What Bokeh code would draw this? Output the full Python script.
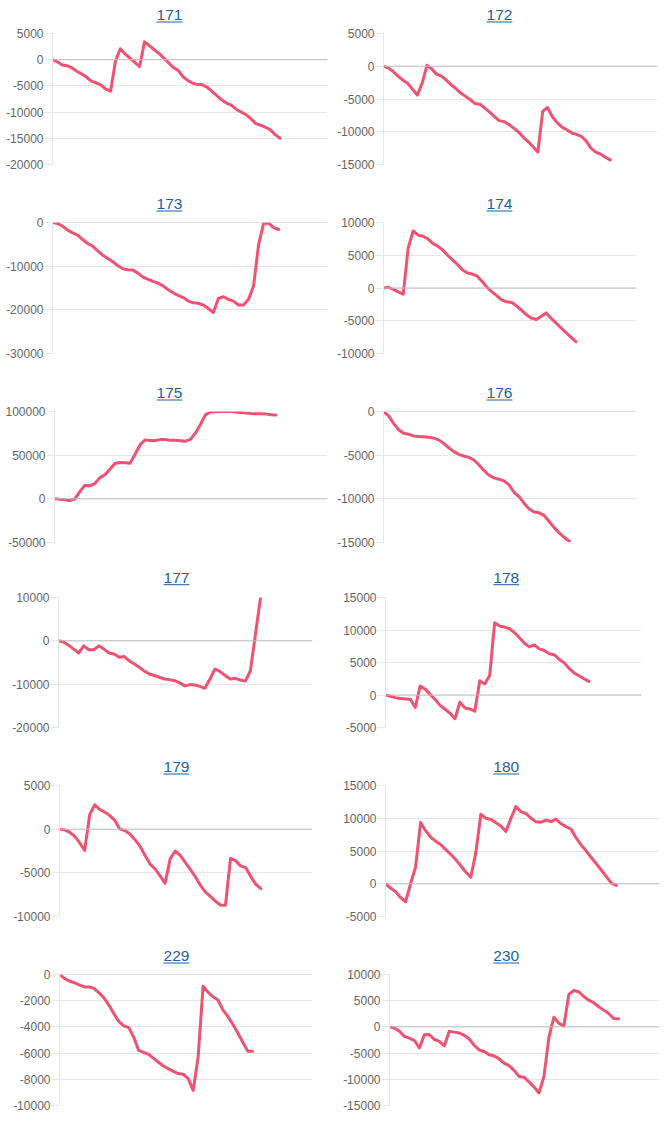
from bokeh.plotting import figure
from bokeh.layouts import column, row
from bokeh.models import Range1d, FixedTicker, Span, NumeralTickFormatter
from bokeh.embed import file_html
from bokeh.resources import INLINE
from bokeh.core.properties import value

# ---------------- data ----------------
TITLES = ["171", "172", "173", "174", "175", "176", "177", "178", "179", "180", "229", "230"]

S171 = [0, -400, -1000, -1150, -1550, -2200, -2700, -3300, -4100, -4400, -4800, -5600,
        -6000, -300, 2100, 1100, 300, -500, -1300, 3400, 2700, 1900, 1200, 300, -600,
        -1500, -2100, -3300, -4000, -4500, -4750, -4800, -5300, -6100, -6900, -7700,
        -8300, -8700, -9500, -10000, -10500, -11300, -12200, -12500, -12900, -13400,
        -14300, -15000]
S172 = [0, -250, -800, -1500, -2100, -2600, -3500, -4400, -2600, 150, -400, -1200,
        -1500, -2100, -2800, -3400, -4100, -4600, -5100, -5700, -5800, -6400, -7000,
        -7700, -8300, -8450, -8900, -9450, -10050, -10850, -11500, -12300, -13100,
        -6900, -6300, -7700, -8600, -9300, -9700, -10200, -10400, -10700, -11400,
        -12500, -13100, -13400, -13900, -14300]
S173 = [0, -230, -840, -1750, -2370, -2900, -3900, -4800, -5400, -6500, -7500, -8250,
        -9000, -9900, -10600, -10800, -10900, -11600, -12500, -13000, -13500, -13900,
        -14500, -15400, -16100, -16700, -17200, -18000, -18400, -18500, -18900, -19700,
        -20600, -17400, -17000, -17600, -18000, -18900, -18900, -17600, -14500, -5000,
        -200, -200, -1150, -1600]
S174 = [0, 100, -200, -600, -950, 6100, 8700, 8100, 7900, 7500, 6800, 6400, 5800, 5000,
        4300, 3600, 2800, 2300, 2150, 1800, 1000, 100, -600, -1200, -1850, -2100, -2200,
        -2750, -3400, -4100, -4600, -4800, -4300, -3800, -4650, -5350, -6100, -6800,
        -7500, -8200]
S175 = [0, -600, -1000, -2000, -300, 8000, 15500, 14800, 17500, 24000, 27500, 34000,
        40500, 41500, 41300, 40800, 51000, 62000, 67500, 66800, 66900, 67800, 67900,
        67200, 67000, 66500, 66000, 68000, 75500, 85500, 96500, 99500, 99700, 100000,
        100100, 99900, 99500, 98900, 98300, 97600, 97300, 97300, 97000, 96400, 96000]
S176 = [0, -500, -1350, -2100, -2500, -2600, -2800, -2850, -2880, -2950, -3050, -3250,
        -3650, -4150, -4600, -4900, -5100, -5250, -5550, -6100, -6750, -7300, -7600,
        -7750, -7950, -8400, -9250, -9750, -10500, -11150, -11500, -11600, -11900,
        -12600, -13300, -13900, -14400, -14850]
S177 = [0, -250, -1000, -1900, -2800, -1150, -2050, -2050, -1150, -1900, -2800, -3050,
        -3800, -3600, -4600, -5350, -6100, -7000, -7650, -8000, -8400, -8800, -8950,
        -9200, -9700, -10400, -10100, -10200, -10500, -10950, -8800, -6500, -7100,
        -8000, -8800, -8650, -9050, -9300, -6900, 1500, 9900]
S178 = [0, -200, -400, -550, -600, -650, -1900, 1400, 900, 100, -700, -1600, -2200,
        -2800, -3650, -1100, -2000, -2150, -2500, 2200, 1700, 3000, 11100, 10600, 10450,
        10200, 9600, 8800, 7950, 7400, 7700, 7100, 6850, 6350, 6200, 5500, 4950, 4100,
        3400, 2950, 2500, 2100]
S179 = [0, -80, -350, -800, -1550, -2450, 1650, 2800, 2250, 1950, 1550, 1000, 0, -150,
        -550, -1200, -1950, -3000, -4000, -4550, -5350, -6200, -3400, -2500, -3000,
        -3800, -4600, -5450, -6400, -7200, -7700, -8250, -8700, -8700, -3350, -3600,
        -4200, -4400, -5400, -6300, -6800]
S180 = [0, -650, -1200, -2100, -2750, 0, 2600, 9350, 8100, 7100, 6500, 6000, 5200, 4500,
        3650, 2750, 1800, 1000, 4750, 10600, 10000, 9800, 9300, 8800, 8000, 10000, 11800,
        11000, 10700, 10000, 9450, 9400, 9700, 9500, 9850, 9150, 8700, 8300, 7000, 5900,
        5000, 4000, 3050, 2100, 1100, 100, -250]
S229 = [0, -300, -500, -630, -800, -950, -950, -1070, -1400, -1800, -2350, -3000, -3600,
        -3920, -4050, -4800, -5800, -5950, -6100, -6400, -6700, -6980, -7200, -7400,
        -7560, -7620, -7950, -8850, -6300, -900, -1350, -1700, -1950, -2700, -3200,
        -3800, -4450, -5150, -5850, -5850]
S230 = [0, -200, -830, -1800, -2150, -2600, -4000, -1500, -1450, -2400, -2750, -3600,
        -850, -1000, -1150, -1600, -2300, -3500, -4400, -4700, -5300, -5500, -6100,
        -6900, -7400, -8300, -9450, -9600, -10500, -11450, -12600, -9500, -2000, 1850,
        700, 150, 6200, 6950, 6700, 5800, 5100, 4600, 3850, 3200, 2550, 1600, 1550]

SERIES = [S171, S172, S173, S174, S175, S176, S177, S178, S179, S180, S229, S230]

# number of x-label slots on each chart's category axis (data ends before the right edge)
X_SLOTS = [56.8, 56.8, 54.7, 51.3, 54.2, 50.4, 50.3, 51.6, 50.3, 54.6, 51.1, 54.2]

Y_MIN = [-20000, -15000, -30000, -10000, -50000, -15000, -20000, -5000, -10000, -5000, -10000, -15000]
Y_MAX = [5000, 5000, 0, 10000, 100000, 0, 10000, 15000, 5000, 15000, 0, 10000]
Y_STEP = [5000, 5000, 10000, 5000, 50000, 5000, 10000, 5000, 5000, 5000, 2000, 5000]

# ---------------- layout (page pixels) ----------------
# each row: (top, split between title band and chart, bottom)
ROWS = [(0, 25, 188), (188, 214, 377), (377, 403, 565), (565, 588, 753),
        (753, 777, 941), (941, 966, 1125)]
COLS = [(0, 334), (334, 668)]
FRAMES = [  # left, right, top, bottom
    (52, 327, 33, 164), (382, 657, 33, 164),
    (52, 327, 222, 353), (382, 636, 222, 353),
    (54, 327, 411, 542), (382, 636, 411, 542),
    (58, 312, 597, 727), (385, 641, 597, 727),
    (59, 312, 785, 916), (385, 659, 785, 916),
    (59, 312, 974, 1105), (389, 659, 974, 1105),
]
TITLE_CX = [169, 499, 169, 499, 169, 499, 176, 505.7, 176, 505.7, 176, 505.7]
TITLE_BASE = [20, 20, 209, 209, 398, 398, 582.7, 582.7, 772, 772, 961, 961]

LINE_COLOR = "#f05272"
LINK_COLOR = "#1f5ea5"
GRID = "#e6e6e6"
ZERO = "#bfbfbf"
TITLE_SIZE = 15.5
FONT = "Liberation Sans"


def text_width(s, size=12.0):
    return sum((0.333 if c == "-" else 0.5562) * size for c in s)


def bare(width, height):
    f = figure(width=width, height=height, output_backend="svg", toolbar_location=None,
               x_axis_location=None, y_axis_location=None,
               x_range=Range1d(0, width), y_range=Range1d(0, height),
               min_border=0, outline_line_color=None,
               background_fill_color="white", border_fill_color="white")
    f.grid.visible = False
    return f


title_figs = []
chart_figs = []
for i, vals in enumerate(SERIES):
    c = i % 2
    r = i // 2
    cl, cr = COLS[c]
    rt, rs, rb = ROWS[r]
    fl, fr, ft, fb = FRAMES[i]

    # ---- title band (link-style, underlined) ----
    band_h = rs - rt
    tf = bare(cr - cl, band_h)
    tx = TITLE_CX[i] - cl
    base = band_h - (TITLE_BASE[i] - rt)          # baseline, measured upward from band bottom
    cap_mid = base + 0.358 * TITLE_SIZE            # middle of the digits
    w = text_width(TITLES[i], TITLE_SIZE)
    tf.text(x=[tx], y=[cap_mid], text=[TITLES[i]], text_align="center",
            text_baseline="middle", text_font=value(FONT),
            text_font_size=f"{TITLE_SIZE}px", text_color=LINK_COLOR)
    tf.segment(x0=[tx - w / 2], y0=[base - 1.5], x1=[tx + w / 2], y1=[base - 1.5],
               line_color=LINK_COLOR, line_width=1)
    title_figs.append(tf)

    # ---- chart ----
    ticks = list(range(Y_MIN[i], Y_MAX[i] + 1, Y_STEP[i]))
    p = figure(width=cr - cl, height=rb - rs, output_backend="svg", toolbar_location=None,
               x_axis_location=None, y_axis_location="left",
               x_range=Range1d(0, X_SLOTS[i]), y_range=Range1d(Y_MIN[i], Y_MAX[i]),
               min_border_left=fl - cl, min_border_right=cr - fr,
               min_border_top=ft - rs, min_border_bottom=rb - fb,
               outline_line_color=None, background_fill_color="white",
               border_fill_color="white")
    p.xgrid.visible = False
    p.ygrid.grid_line_color = GRID
    p.ygrid.grid_line_width = 1
    ax = p.yaxis[0]
    ax.ticker = FixedTicker(ticks=ticks)
    ax.formatter = NumeralTickFormatter(format="0")
    ax.axis_line_color = GRID
    ax.major_tick_line_color = GRID
    ax.minor_tick_line_color = None
    ax.major_tick_in = 0
    avail = (fl - cl) - max(text_width(str(t)) for t in ticks) - 1.5
    ax.major_tick_out = int(max(0, min(8, avail)))
    ax.major_label_standoff = 1
    ax.major_label_text_font = FONT
    ax.major_label_text_font_size = "12px"
    ax.major_label_text_color = "#666666"

    p.add_layout(Span(location=0, dimension="width", line_color=ZERO, line_width=1))
    p.line(x=list(range(len(vals))), y=vals, line_color=LINE_COLOR, line_width=3,
           line_join="round", line_cap="round")
    chart_figs.append(p)

blocks = []
for k in range(6):
    blocks.append(row(title_figs[2 * k], title_figs[2 * k + 1]))
    blocks.append(row(chart_figs[2 * k], chart_figs[2 * k + 1]))
layout = column(*blocks)
open("out.html", "w").write(file_html(layout, INLINE))
